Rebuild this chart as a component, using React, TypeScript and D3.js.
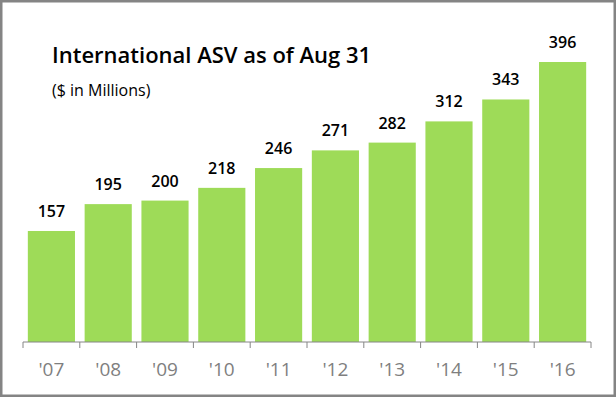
import React from 'react';
import * as d3 from 'd3';

const years = ["'07", "'08", "'09", "'10", "'11", "'12", "'13", "'14", "'15", "'16"];
const asv = [157, 195, 200, 218, 246, 271, 282, 312, 343, 396];

const W = 616;
const H = 397;
const FONT = "'Open Sans', 'Noto Sans', sans-serif";

export default function App() {
  const x = d3.scaleBand<string>().domain(years).range([23, 591]).paddingInner(0.17).paddingOuter(0.085);
  const y = d3.scaleLinear().domain([0, 396]).range([342, 62]);
  const base = y(0);

  // tick positions between bands
  const step = x.step();
  const ticks = d3.range(years.length + 1).map((i) => 23 + i * step);

  return (
    <div style={{ position: 'fixed', left: 0, top: 0 }}>
      <svg width={W} height={H} style={{ display: 'block' }}>
        <rect x={0} y={0} width={W} height={H} fill="#fff" />
        <rect x={1.25} y={1.25} width={W - 2.5} height={H - 2.5} fill="none" stroke="#848484" strokeWidth={2.5} />

        <text x={52} y={63} fontFamily={FONT} fontWeight={600} fontSize={22} fill="#000">
          International ASV as of Aug 31
        </text>
        <text x={52} y={96} fontFamily={FONT} fontSize={16} fill="#000">
          ($ in Millions)
        </text>

        {asv.map((v, i) => (
          <g key={years[i]}>
            <rect x={x(years[i])} y={y(v)} width={x.bandwidth()} height={base - y(v)} fill="#9EDB58" />
            <text
              x={(x(years[i]) as number) + x.bandwidth() / 2}
              y={y(v) - 14}
              textAnchor="middle"
              fontFamily={FONT}
              fontWeight={600}
              fontSize={16}
              fill="#000"
            >
              {v}
            </text>
          </g>
        ))}

        <line x1={23} x2={591} y1={base} y2={base} stroke="#868686" strokeWidth={1} />
        {ticks.map((t, i) => (
          <line key={i} x1={t} x2={t} y1={base} y2={base + 6} stroke="#868686" strokeWidth={1} />
        ))}
        {years.map((yr) => (
          <text
            key={yr}
            x={(x(yr) as number) + x.bandwidth() / 2}
            y={376}
            textAnchor="middle"
            fontFamily={FONT}
            fontSize={19}
            fill="#7F7F7F"
          >
            {yr}
          </text>
        ))}
      </svg>
    </div>
  );
}
